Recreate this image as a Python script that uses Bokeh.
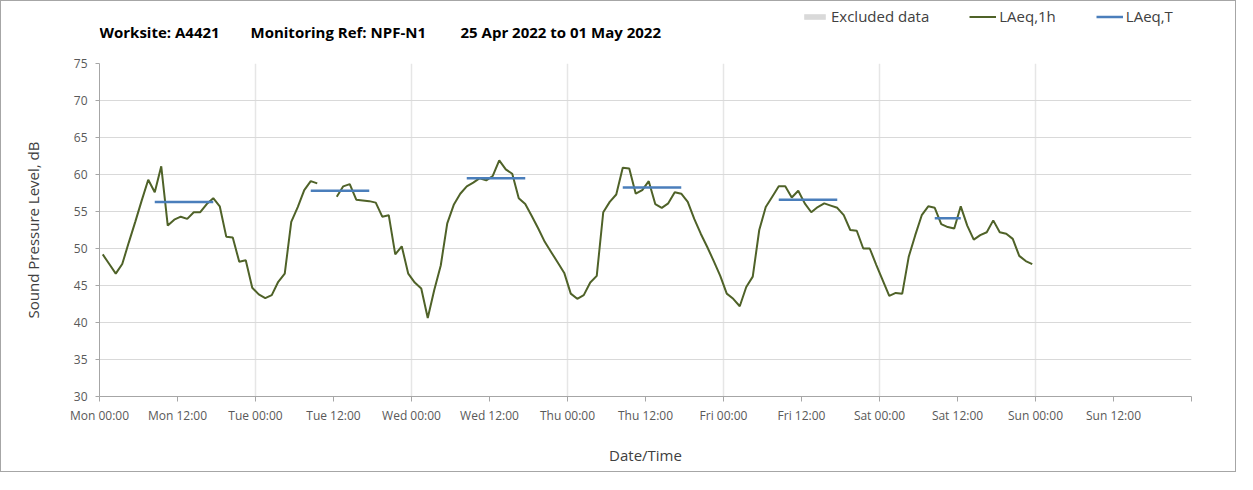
from bokeh.plotting import figure
from bokeh.layouts import column
from bokeh.models import FixedTicker, Legend, LegendItem, Label, Range1d, ColumnDataSource
from bokeh.embed import file_html
from bokeh.resources import INLINE
import numpy as np

FONT = "Open Sans"

# ---------------- data ----------------
title_parts = ["Worksite: A4421", "Monitoring Ref: NPF-N1", "25 Apr 2022 to 01 May 2022"]

tick_hours = [0, 12, 24, 36, 48, 60, 72, 84, 96, 108, 120, 132, 144, 156, 168]
tick_labels = ["Mon 00:00", "Mon 12:00", "Tue 00:00", "Tue 12:00", "Wed 00:00",
               "Wed 12:00", "Thu 00:00", "Thu 12:00", "Fri 00:00", "Fri 12:00",
               "Sat 00:00", "Sat 12:00", "Sun 00:00", "Sun 12:00", ""]
day_hours = [0, 24, 48, 72, 96, 120, 144, 168]

# hourly LAeq,1h values from Mon 25 Apr 00:00 (NaN = no data)
laeq_1h_mon = [49.2, 47.9, 46.6, 47.9, 50.8, 53.6, 56.5, 59.3, 57.6, 61.1, 53.1, 53.9,
               54.3, 54.0, 54.9, 54.9, 56.0, 56.8, 55.7, 51.6, 51.5, 48.2, 48.4, 44.7]
laeq_1h_tue = [43.8, 43.3, 43.7, 45.5, 46.6, 53.6, 55.6, 57.9, 59.1, 58.8, np.nan, np.nan,
               57.0, 58.4, 58.7, 56.6, 56.5, 56.4, 56.2, 54.3, 54.5, 49.2, 50.3, 46.6]
laeq_1h_wed = [45.4, 44.6, 40.6, 44.4, 47.7, 53.4, 55.9, 57.4, 58.4, 58.9, 59.5, 59.2,
               59.8, 61.9, 60.7, 60.1, 56.8, 56.0, 54.4, 52.7, 50.9, 49.5, 48.1, 46.7]
laeq_1h_thu = [43.9, 43.2, 43.7, 45.4, 46.3, 54.9, 56.3, 57.3, 60.9, 60.8, 57.4, 57.9,
               59.1, 56.0, 55.5, 56.1, 57.6, 57.4, 56.3, 54.0, 52.0, 50.2, 48.3, 46.3]
laeq_1h_fri = [43.9, 43.2, 42.2, 44.8, 46.2, 52.5, 55.6, 57.0, 58.4, 58.4, 56.9, 57.8,
               56.1, 54.9, 55.6, 56.1, 55.8, 55.5, 54.5, 52.5, 52.4, 50.0, 50.0, 47.8]
laeq_1h_sat = [45.7, 43.6, 44.0, 43.9, 48.9, 51.8, 54.5, 55.7, 55.5, 53.3, 52.9, 52.7,
               55.7, 53.1, 51.2, 51.8, 52.2, 53.8, 52.2, 52.0, 51.3, 49.0, 48.3, 47.9]

# LAeq,T periods (hour index of first / last hourly period) and levels
laeqT_start = [8, 32, 56, 80, 104, 128]
laeqT_end = [17, 41, 65, 89, 113, 132]
laeqT_value = [56.3, 57.8, 59.5, 58.25, 56.6, 54.1]

# ---------------- styles ----------------
GREEN = "#4f6228"
BLUE = "#4a7ebb"
GREY_BOX = "#d9d9d9"
W = 1234
HEAD_H = 54
MAIN_H = 416
FRAME_L, FRAME_R = 99, 1191   # page-pixel span of the (aligned) plot frames

# ---------------- header (title + legend) ----------------
head = figure(width=W, height=HEAD_H, output_backend="svg", toolbar_location=None,
              x_range=Range1d(FRAME_L, FRAME_R), y_range=Range1d(0, HEAD_H),
              x_axis_type=None, y_axis_type=None,
              min_border_left=0, min_border_right=0, min_border_top=0, min_border_bottom=0)
head.outline_line_color = None
head.xgrid.visible = False
head.ygrid.visible = False

title_left = [99, 250, 460]   # page pixel positions of the three title pieces
for txt, tx in zip(title_parts, title_left):
    head.add_layout(Label(x=tx, y=24, text=txt, text_font=FONT, text_font_size="15px",
                          text_font_style="bold", text_color="#000000",
                          text_baseline="middle", text_align="left"))

nan = [np.nan]
h_excl = head.quad(left=nan, right=nan, top=nan, bottom=nan,
                   fill_color=GREY_BOX, line_color=None)
h_green = head.line(nan, nan, line_color=GREEN, line_width=2)
h_blue = head.line(nan, nan, line_color=BLUE, line_width=2.5)
legend = Legend(items=[LegendItem(label="Excluded data", renderers=[h_excl]),
                       LegendItem(label="LAeq,1h", renderers=[h_green]),
                       LegendItem(label="LAeq,T", renderers=[h_blue])],
                orientation="horizontal", location=(702, 29),
                glyph_width=27, glyph_height=7, label_standoff=3, spacing=40,
                padding=0, margin=0, border_line_color=None,
                background_fill_alpha=0,
                label_text_font=FONT, label_text_font_size="15px",
                label_text_color="#404040", label_height=18)
head.add_layout(legend, "center")

# ---------------- main chart ----------------
laeq_1h = np.array(laeq_1h_mon + laeq_1h_tue + laeq_1h_wed + laeq_1h_thu +
                   laeq_1h_fri + laeq_1h_sat, dtype=float)
hours = np.arange(len(laeq_1h)) + 0.5  # period mid-points

p = figure(width=W, height=MAIN_H, output_backend="svg", toolbar_location=None,
           x_range=Range1d(0, 168), y_range=Range1d(30, 75),
           min_border_left=98, min_border_right=44, min_border_top=8, min_border_bottom=75)
p.outline_line_color = None

p.ygrid.grid_line_color = "#d9d9d9"
p.ygrid.grid_line_width = 1
p.xgrid.ticker = FixedTicker(ticks=day_hours)
p.xgrid.grid_line_color = "#e6e6e6"
p.xgrid.grid_line_width = 1.5

p.xaxis.ticker = FixedTicker(ticks=tick_hours)
p.xaxis.major_label_overrides = {h: lab for h, lab in zip(tick_hours, tick_labels)}
p.yaxis.ticker = FixedTicker(ticks=list(range(30, 76, 5)))
for ax in (p.xaxis[0], p.yaxis[0]):
    ax.axis_line_color = "#a6a6a6"
    ax.major_tick_line_color = "#a6a6a6"
    ax.minor_tick_line_color = None
    ax.major_tick_in = 0
    ax.major_label_text_font = FONT
    ax.major_label_text_font_size = "12px"
    ax.major_label_text_color = "#595959"
    ax.axis_label_text_font = FONT
    ax.axis_label_text_font_size = "15px"
    ax.axis_label_text_font_style = "normal"
    ax.axis_label_text_color = "#404040"
p.xaxis.major_tick_out = 5
p.xaxis.major_label_standoff = 5
p.xaxis.axis_label = "Date/Time"
p.xaxis.axis_label_standoff = 18
p.yaxis.major_tick_out = 4
p.yaxis.major_label_standoff = 8
p.yaxis.axis_label = "Sound Pressure Level, dB"
p.yaxis.axis_label_standoff = 28

p.line(hours, laeq_1h, line_color=GREEN, line_width=2)
blue_src = ColumnDataSource(dict(
    xs=[[s + 0.5, e + 0.5] for s, e in zip(laeqT_start, laeqT_end)],
    ys=[[v, v] for v in laeqT_value]))
p.multi_line("xs", "ys", source=blue_src, line_color=BLUE, line_width=2.5)

layout = column(head, p, spacing=0)
layout.styles = {"border": "1px solid #a6a6a6", "background-color": "white"}

open("out.html", "w").write(file_html(layout, INLINE))
